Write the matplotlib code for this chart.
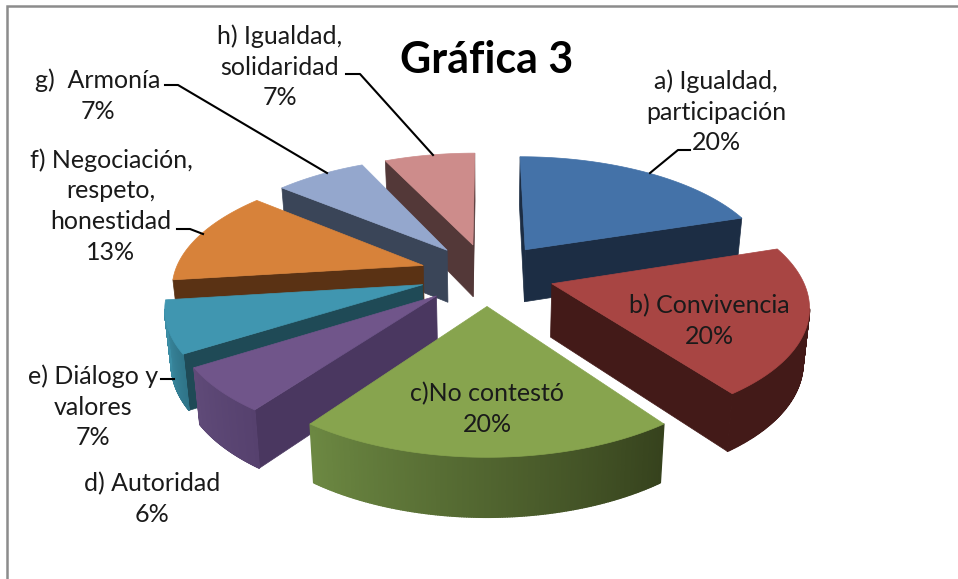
import numpy as np
import matplotlib
matplotlib.use("Agg")
import matplotlib.pyplot as plt
from matplotlib.collections import PolyCollection
from matplotlib.colors import to_rgb

# slice values, clockwise from 12 o'clock
names = ["a) Igualdad,\nparticipación", "b) Convivencia", "c)No contestó", "d) Autoridad",
         "e) Diálogo y\nvalores", "f) Negociación,\nrespeto,\nhonestidad", "g)  Armonía",
         "h) Igualdad,\nsolidaridad"]
values = [20, 20, 20, 6, 7, 13, 7, 7]

top_colors = ["#4472a8", "#a84543", "#87a44e", "#70558a", "#4096b0", "#d7823a", "#94a7cd", "#cd8c8b"]
wall_colors = ["#1c2d44", "#431a18", "#36421d", "#4a3760", "#1f4a56", "#5a3214", "#3a4558", "#533838"]
rim_left = ["#1c2d44", "#431a18", "#6c8842", "#5f4a78", "#3f93ab", "#5a3214", "#3a4558", "#533838"]
rim_right = ["#1c2d44", "#431a18", "#36421d", "#56416e", "#2f7488", "#5a3214", "#3a4558", "#533838"]

# label anchors in pixels
label_x = [716, 709, 487, 152, 93, 111, 98, 280]
label_y = [112, 321, 409, 499, 407, 206, 96, 67]

CX, CY = 487, 274
RX, RY = 249, 115
PERSP = 0.16
EXPLODE = 0.27
DROP = 53
BOTTOM = 0.98  # bottom face is a touch narrower than the top


def project(x, y):
    s = 1 / (1 - PERSP * y)
    return CX + RX * x * s, CY + RY * y * s, DROP * s ** 0.55


def lower(x):
    return CX + (x - CX) * BOTTOM


def blend(c1, c2, t):
    return tuple((1 - t) * np.array(to_rgb(c1)) + t * np.array(to_rgb(c2)))


fig = plt.figure(figsize=(9.58, 5.79), dpi=100)
ax = fig.add_axes([0, 0, 1, 1])
ax.set_xlim(0, 958)
ax.set_ylim(579, 0)
ax.axis("off")

# chart frame, open at the right and bottom
ax.plot([7, 7, 958], [579, 6, 6], color="#8c8c8c", lw=1.8, solid_joinstyle="miter")

edges = np.cumsum([0] + values) / sum(values) * 2 * np.pi
mids = (edges[:-1] + edges[1:]) / 2

# paint from the back of the pie to the front
order = sorted(range(len(values)), key=lambda i: -np.cos(mids[i]))
for z, i in enumerate(order):
    t = np.linspace(edges[i], edges[i + 1], 160)
    ox, oy = EXPLODE * np.sin(mids[i]), -EXPLODE * np.cos(mids[i])
    ax_, ay_, ad = project(ox, oy)
    rx, ry, rd = project(ox + np.sin(t), oy - np.cos(t))

    # outer rim, shaded along the arc
    quads, cols = [], []
    for k in range(len(t) - 1):
        if rx[k + 1] < rx[k]:
            quads.append([(rx[k], ry[k]), (rx[k + 1], ry[k + 1]),
                          (lower(rx[k + 1]), ry[k + 1] + rd[k + 1]), (lower(rx[k]), ry[k] + rd[k])])
            cols.append(blend(rim_right[i], rim_left[i], k / (len(t) - 2)))

    # radial walls, only those facing the viewer
    for (px, py, pd), (qx, qy, qd) in [((ax_, ay_, ad), (rx[0], ry[0], rd[0])), ((rx[-1], ry[-1], rd[-1]), (ax_, ay_, ad))]:
        if qx < px:
            ax.fill([px, qx, lower(qx), lower(px)], [py, qy, qy + qd, py + pd],
                    color=wall_colors[i], lw=0.5, zorder=2 + z)
    if quads:
        ax.add_collection(PolyCollection(quads, facecolors=cols, edgecolors=cols, linewidths=1.0, zorder=2 + z))
    ax.fill(np.r_[ax_, rx], np.r_[ay_, ry], color=top_colors[i], lw=0.5, zorder=2 + z)

# leader lines
leaders = [([650, 678, 690], [173, 150, 150]), ([165, 178, 327], [85, 85, 173]),
           ([346, 360, 433], [74, 74, 155]), ([177, 190, 203], [229, 229, 234]),
           ([161, 174], [379, 379])]
for lx, ly in leaders:
    ax.plot(lx, ly, color="black", lw=1.5, zorder=30)

for name, v, x, y in zip(names, values, label_x, label_y):
    ax.text(x, y, f"{name}\n{v}%", ha="center", va="center", fontsize=18, family="Lato",
            color="#1a1a1a", linespacing=1.4, zorder=40)

ax.text(487, 60, "Gráfica 3", ha="center", va="center", fontsize=31, family="Lato",
        fontweight="bold", color="black", zorder=40)

fig.savefig("out.png", dpi=100)
